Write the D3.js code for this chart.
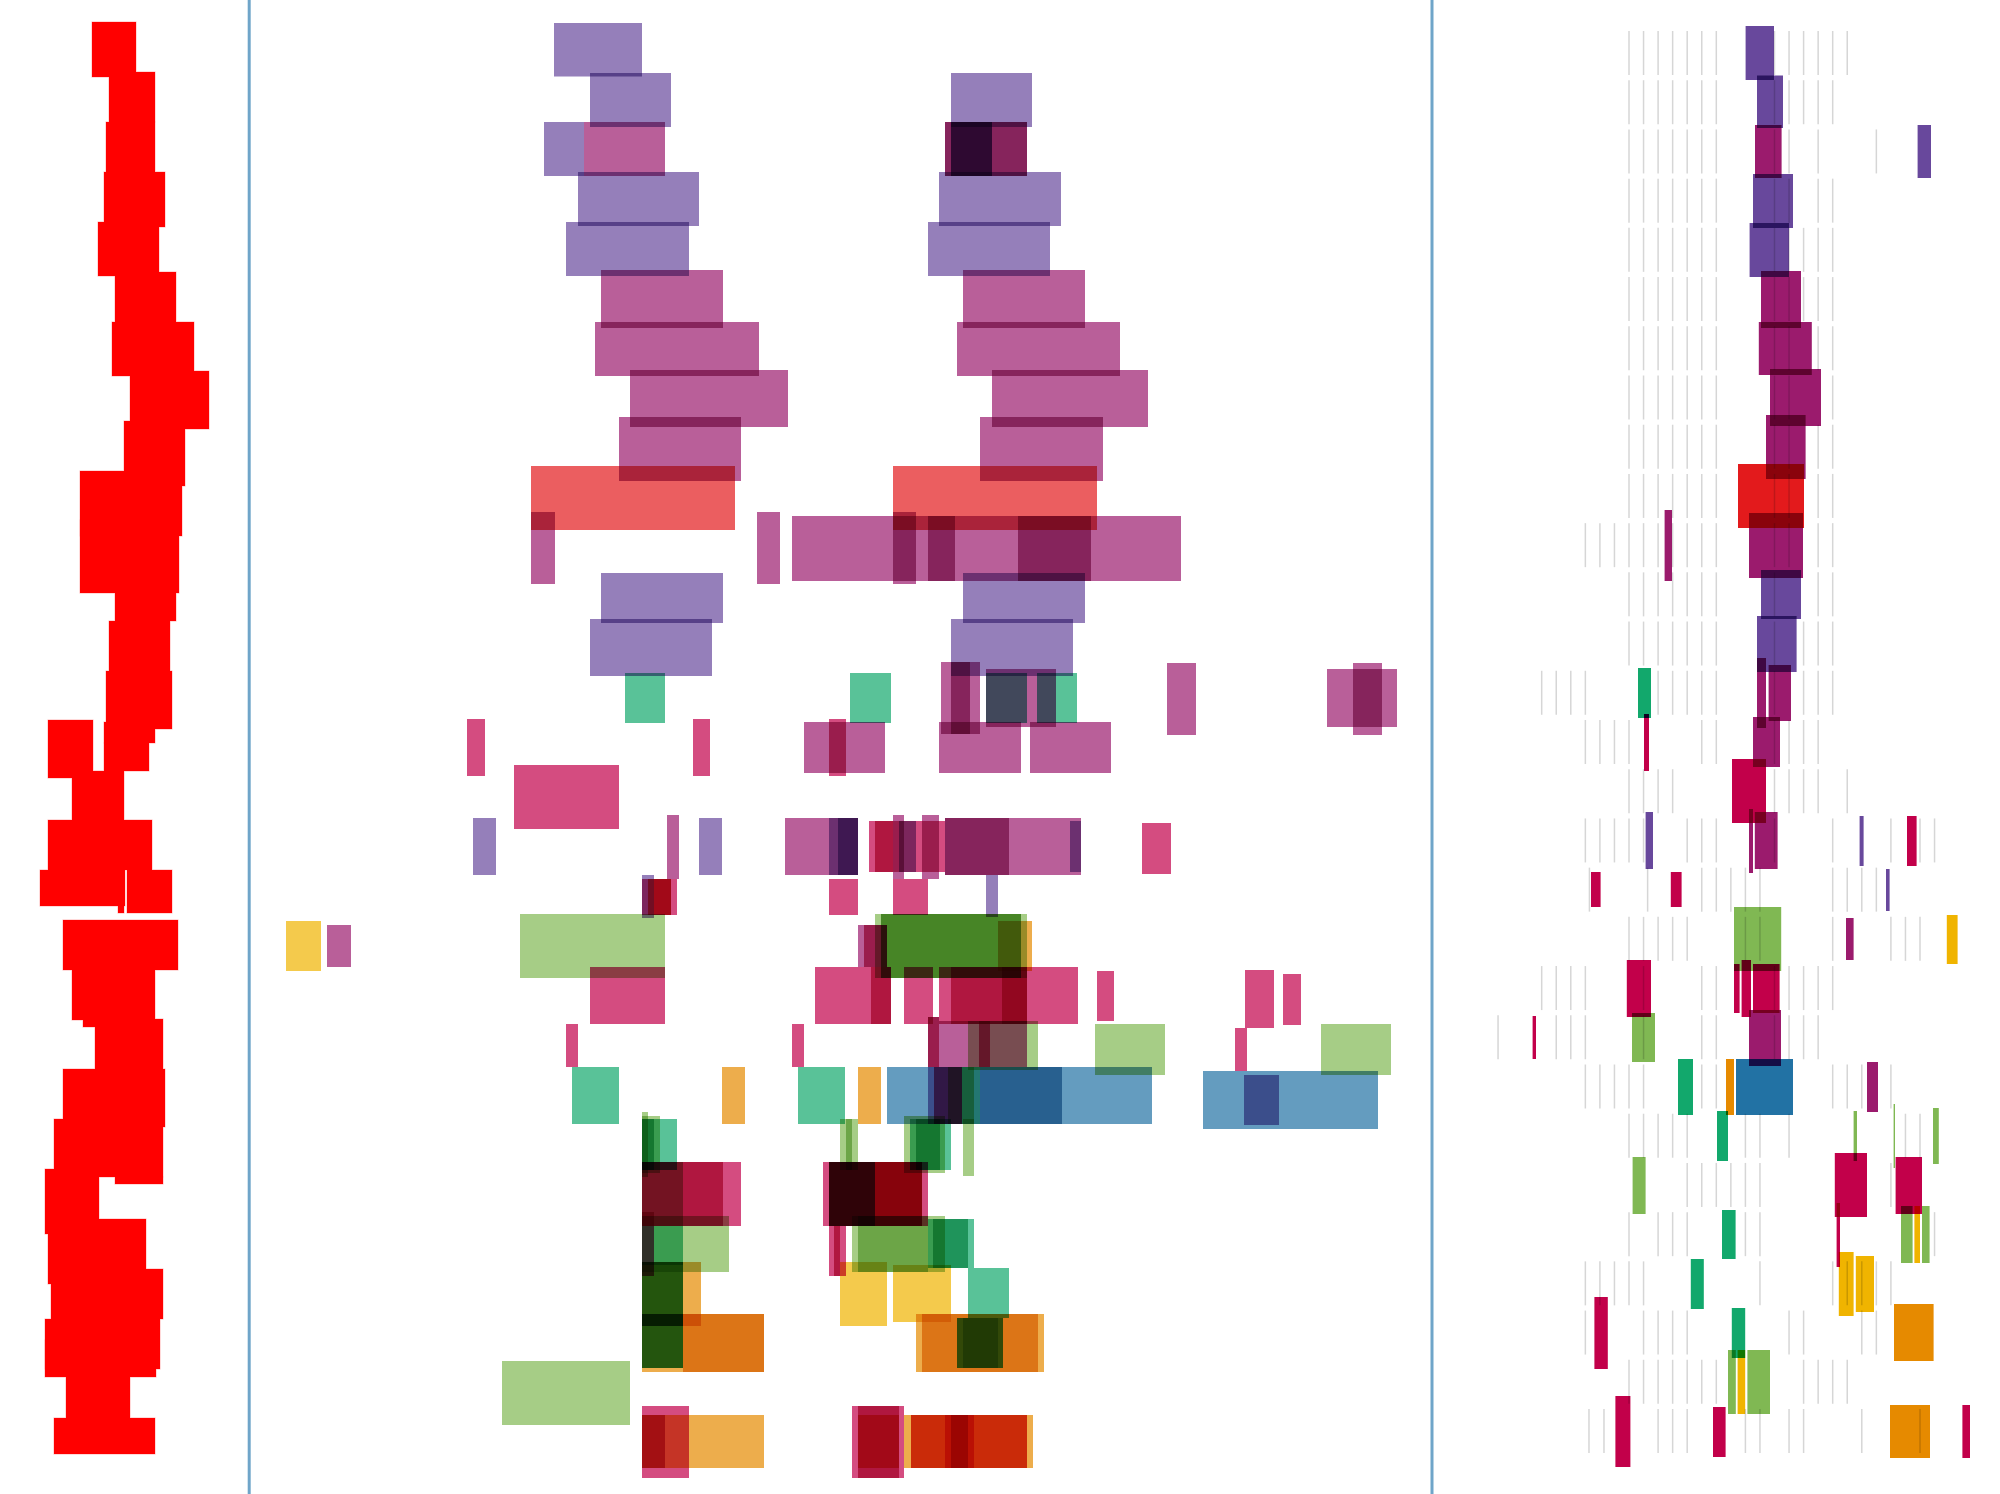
<!DOCTYPE html>
<html>
<head>
<meta charset="utf-8">
<script src="https://cdn.jsdelivr.net/npm/d3@7"></script>
<style>
html,body{margin:0;padding:0;background:#fff;}
svg{display:block;}
</style>
</head>
<body>
<script>
// ---------- DATA ----------
// series (colour groups)
const seriesNames  = ["purple","magenta","red","crimson","green","lime","yellow","orange","blue"];
const seriesColors = ["#68489c","#9b1b6d","#e31a1c","#c2004a","#12a86c","#80b853","#f0b400","#e68a00","#2272a4"];

// left track: [start, end, top, bottom]  (position units, row units)
const leftRanges = [
 [46,68,0.44,1.54],[54.5,77.5,1.44,2.44],[53,77.5,2.44,3.44],[52,82.5,3.44,4.54],
 [49,79.5,4.44,5.52],[57.5,88,5.44,6.44],[56,97,6.44,7.52],[65,104.5,7.42,8.58],
 [62,92.5,8.42,9.72],[40,91,9.42,10.72],[40,89.5,10.4,11.86],[57.5,88,11.42,12.42],
 [54.5,85,12.42,13.42],[53,86,13.42,14.58],[52,77.5,14.44,14.86],[52,74.5,14.86,15.42],
 [24,46.5,14.4,15.56],[36,62,15.42,16.4],[24,76,16.4,17.4],[20,62.5,17.4,18.12],
 [63.5,86,17.4,18.26],[59,62,17.7,18.26],[31.5,89,18.4,19.4],[36,77.5,19.26,20.4],
 [47.5,81.5,20.38,21.38],[41.5,47.5,20.4,20.54],[31.5,82.5,21.38,22.54],[27,81.5,22.38,23.54],
 [57.5,81.5,23.54,23.68],[22.5,49.5,23.38,24.68],[24,73,24.38,25.68],[25.5,81.5,25.38,26.38],
 [22.5,80,26.38,27.38],[22.5,78,26.8,27.54],[33,65,27.54,28.36],[27,77.5,28.36,29.08]
];

// middle track: [series, start, end, top, bottom]
const middleRanges = [
 [0,277,321,0.46,1.53],
 [0,295,335.5,1.46,2.54],[0,475.5,516,1.46,2.54],
 [0,272,292,2.44,3.52],[1,292,332.5,2.44,3.52],[1,472.5,513.5,2.44,3.52],[1,472.5,513.5,2.44,3.52],[0,475.5,496,2.44,3.52],[0,475.5,496,2.44,3.52],
 [0,289,349.5,3.44,4.52],[0,469.5,530.5,3.44,4.52],
 [0,283,344.5,4.44,5.52],[0,464,525,4.44,5.52],
 [1,300.5,361.5,5.4,6.56],[1,481.5,542.5,5.4,6.56],
 [1,297.5,379.5,6.44,7.52],[1,478.5,560,6.44,7.52],
 [1,315,394,7.4,8.54],[1,496,574,7.4,8.54],
 [1,309.5,370.5,8.34,9.62],[1,490,551.5,8.34,9.62],
 [2,265.5,367.5,9.32,10.6],[2,446.5,548.5,9.32,10.6],
 [1,265.5,277.5,10.24,11.68],[1,378.5,390,10.24,11.68],[1,396,590.5,10.32,11.62],[1,446.5,458,10.24,11.68],[1,464,477.5,10.32,11.62],[1,509,545.5,10.32,11.62],
 [0,300.5,361.5,11.46,12.46],[0,481.5,542.5,11.46,12.46],
 [0,295,356,12.38,13.52],[0,475.5,536.5,12.38,13.52],
 [4,312.5,332.5,13.46,14.46],[4,425,445.5,13.46,14.46],[1,470.5,490,13.24,14.68],[1,475.5,485,13.24,14.68],[1,493,528,13.38,14.54],[4,493,513.5,13.46,14.46],[4,518.5,538.5,13.46,14.46],[1,583.5,598,13.26,14.7],[1,663.5,698.5,13.38,14.54],[1,676.5,691,13.26,14.7],
 [3,233.5,242.5,14.38,15.52],[3,346.5,355,14.38,15.52],[1,402,442.5,14.44,15.46],[3,414.5,423,14.38,15.52],[1,469.5,510.5,14.44,15.46],[1,515,555.5,14.44,15.46],
 [3,257,309.5,15.3,16.58],
 [0,236.5,248,16.36,17.5],[1,333.5,339.5,16.3,17.58],[0,349.5,361,16.36,17.5],[1,392.5,429,16.36,17.5],[0,414.5,429,16.36,17.5],[0,419,429,16.36,17.5],[3,434.5,458,16.42,17.44],[3,437.5,446.5,16.42,17.44],[1,446.5,452,16.3,17.58],[0,449.5,458,16.42,17.44],[3,458,472.5,16.42,17.44],[1,461,469.5,16.3,17.58],[1,472.5,504.5,16.36,17.5],[1,472.5,540.5,16.36,17.5],[0,535,540.5,16.42,17.44],[3,571,585.5,16.46,17.48],
 [0,321,327,17.5,18.36],[3,321,338.5,17.58,18.3],[2,324,335.5,17.58,18.3],[3,327,335.5,17.58,18.3],[3,414.5,429,17.58,18.3],[3,446.5,464,17.58,18.3],[0,493,499,17.5,18.34],
 [6,143,160.5,18.42,19.42],[1,163.5,175.5,18.5,19.34],[5,260,332.5,18.28,19.56],[1,429,443.5,18.5,19.34],[3,432,443.5,18.5,19.34],[5,437.5,513.5,18.28,19.56],[5,440.5,510.5,18.28,19.56],[5,440.5,510.5,18.28,19.56],[7,499,516,18.42,19.42],
 [3,295,332.5,19.34,20.48],[3,407.5,445.5,19.34,20.48],[3,435.5,445.5,19.34,20.48],[3,452,466.5,19.34,20.48],[3,469.5,539,19.34,20.48],[3,475.5,513.5,19.34,20.48],[3,501,513.5,19.34,20.48],[3,548.5,557,19.42,20.42],[3,622.5,637,19.4,20.56],[3,641.5,650.5,19.48,20.5],
 [3,283,289,20.48,21.34],[3,396,402,20.48,21.34],[1,464,469.5,20.34,21.34],[3,464,469.5,20.34,21.34],[1,469.5,513.5,20.42,21.34],[5,484,519,20.42,21.4],[3,489.5,495,20.42,21.34],[5,547.5,582.5,20.48,21.5],[3,617.5,623.5,20.56,21.42],[5,660.5,695.5,20.48,21.5],
 [4,286,309.5,21.34,22.48],[7,361,372.5,21.34,22.48],[4,399,422.5,21.34,22.48],[7,429,440.5,21.34,22.48],[8,443.5,576,21.34,22.48],[8,490,531,21.34,22.48],[0,464,481,21.34,22.48],[3,467,481,21.34,22.48],[5,474,487,21.34,22.48],[4,481,490,21.34,22.48],[8,601.5,689,21.42,22.58],[0,622,639.5,21.5,22.5],
 [5,321,330,22.32,23.46],[5,321,324,22.24,23.54],[4,321,338.5,22.38,23.4],[4,321,327,22.38,23.4],[5,420,429,22.38,23.4],[5,423,426,22.38,23.4],[5,452,472.5,22.32,23.46],[4,455,475.5,22.38,23.4],[4,458,470,22.38,23.4],[5,481.5,487,22.38,23.52],
 [3,321,370.5,23.24,24.52],[3,321,361.5,23.24,24.52],[5,321,341.5,23.24,24.52],[3,411.5,464,23.24,24.52],[3,414.5,461,23.24,24.52],[3,414.5,461,23.24,24.52],[2,414.5,461,23.24,24.52],[4,414.5,437.5,23.24,24.52],
 [3,321,327,24.24,25.52],[4,321,341.5,24.52,25.3],[5,321,364.5,24.32,25.44],[3,414.5,423,24.52,25.52],[3,417,420,24.52,25.52],[5,426,472.5,24.32,25.44],[5,429,464,24.32,25.44],[4,464,487,24.38,25.36],[4,466.5,484,24.38,25.36],
 [4,321,341.5,25.24,26.52],[5,321,341.5,25.24,26.52],[5,321,341.5,25.24,26.52],[7,321,350.5,25.24,26.52],[6,420,443.5,25.24,26.52],[6,446.5,475.5,25.3,26.44],[4,484,504.5,25.36,26.36],
 [7,321,382,26.28,27.44],[7,341.5,382,26.28,27.44],[4,321,341.5,26.28,27.36],[5,321,341.5,26.28,27.36],[5,321,341.5,26.28,27.36],[7,458,522,26.28,27.44],[7,461,519,26.28,27.44],[4,478.5,501.5,26.36,27.36],[5,478.5,501.5,26.36,27.36],[5,481.5,499,26.36,27.36],
 [5,251,315,27.22,28.5],
 [3,321,344.5,28.12,29.56],[3,321,332.5,28.3,29.36],[7,321,382,28.3,29.36],[3,426,452,28.12,29.56],[3,429,449.5,28.12,29.56],[2,429,449.5,28.3,29.36],[7,452,516.5,28.3,29.36],[7,455.5,513.5,28.3,29.36],[2,455.5,513.5,28.3,29.36],[2,472.5,487,28.3,29.36],[3,475.5,484,28.3,29.36]
];

// right track: [series, start, end, top, bottom]
const rightRanges = [
 [0,872.8,887,0.52,1.6],[0,878.5,891.5,1.51,2.56],[1,877.5,890.8,2.5,3.56],[0,958.8,965.5,2.5,3.56],
 [0,876.5,896.5,3.48,4.56],[0,874.8,894.5,4.46,5.54],[1,880.5,900.5,5.42,6.56],[1,879.4,905.9,6.44,7.5],
 [1,885,910.5,7.38,8.52],[1,883,902.8,8.3,9.58],[2,869,902,9.28,10.56],[1,832.3,836,10.2,11.62],
 [1,874.5,901.5,10.26,11.56],[0,880.5,900.5,11.4,12.38],[0,878.5,898.3,12.32,13.44],[4,819,825.5,13.36,14.36],
 [1,878.5,883,13.16,14.56],[1,884.3,895.5,13.3,14.42],[3,822,824.5,14.28,15.42],[1,876.5,890,14.34,15.34],
 [3,866,883,15.18,16.46],[0,822.8,826.5,16.24,17.38],[1,874.5,876.5,16.18,17.46],[1,877.4,888.8,16.24,17.38],
 [0,929.8,931.8,16.32,17.32],[3,953.5,958.3,16.32,17.32],[3,795.5,800.3,17.44,18.14],[3,835.4,840.8,17.44,18.14],
 [0,943,944.8,17.38,18.22],[5,867,890.6,18.14,19.42],[1,923,926.8,18.36,19.2],[6,973.4,978.8,18.3,19.28],
 [3,813.4,825.5,19.2,20.34],[3,867,869.8,19.28,20.26],[3,870.8,875.5,19.2,20.34],[3,876.5,889.8,19.28,20.26],
 [3,766.3,768,20.32,21.18],[5,816,827.5,20.26,21.24],[1,874.5,890.5,20.2,21.32],[4,839,846.5,21.18,22.3],
 [7,863,867,21.18,22.3],[8,868,896.5,21.18,22.3],[1,933.5,939,21.24,22.24],[4,858.5,864,22.22,23.22],
 [5,926.8,928.5,22.22,23.22],[5,946.8,947.5,22.08,23.36],[5,966.5,969.4,22.16,23.28],[5,816.3,822.8,23.14,24.28],
 [3,917.4,933.5,23.06,24.34],[3,947.8,961,23.14,24.28],[4,861,867.8,24.2,25.18],[3,918.3,920,24.06,25.34],
 [5,950.5,956.3,24.12,25.26],[6,957.2,960,24.12,25.26],[5,961,964.8,24.12,25.26],[4,845.4,851.9,25.18,26.18],
 [6,919.4,926.8,25.04,26.32],[6,927.9,937,25.12,26.24],[3,797.2,803.9,25.94,27.38],[4,865.9,872.6,26.16,27.16],
 [7,947,966.8,26.08,27.22],[5,864,867.9,27,28.28],[6,868.8,872.6,27,28.28],[5,873.7,885,27,28.28],
 [3,807.7,815.2,27.92,29.34],[3,856.5,862.8,28.14,29.14],[7,945,965,28.1,29.16],[3,981.2,985,28.1,29.16]
];

// right track background ticks: grid indices present in each row (rows 1..29)
const tickRows = [
 [0,1,2,3,4,5,6,10,11,12,13,14,15],
 [0,1,2,3,4,5,6,10,11,12,13,14],
 [0,1,2,3,4,5,6,10,11,13,17],
 [0,1,2,3,4,5,6,10,11,13,14],
 [0,1,2,3,4,5,6,10,11,12,13,14],
 [0,1,2,3,4,5,6,10,11,12,13,14],
 [0,1,2,3,4,5,6,10,11,13,14],
 [0,1,2,3,4,5,6,10,11,14],
 [0,1,2,3,4,5,6,10,11,13,14],
 [0,1,2,3,4,5,6,10,11,13,14],
 [-3,-2,-1,0,1,2,3,4,5,6,10,11,13,14],
 [0,1,2,3,4,5,6,10,13,14],
 [0,1,2,3,4,5,6,10,12,13,14],
 [-6,-5,-4,-3,2,3,4,5,6,10,12,13,14],
 [-3,-2,-1,0,5,6,10,11,12,13],
 [0,1,2,3,10,11,12,13,15],
 [-3,-2,-1,0,1,4,5,6,10,14,18,20,21],
 [-2.72,1.28,5,6,7,8,9,14,15,16,17],
 [0,1,2,3,4,8,9,14,18,19,20],
 [-6,-5,-4,-3,1,5,6,10,11,12,13,14],
 [-9,-5,-4,-3,1,5,6,10,11,12,13],
 [-3,-2,-1,0,1,5,6,14,15,16,18],
 [0,1,2,3,4,8,9,11,19,20],
 [4,5,6,7,8,9,18],
 [0,2,3,4,8,9,21],
 [-3,-2,-1,0,1,9,14,15,16,17,18],
 [-3,1,2,3,4,11,12,16,17],
 [0,1,2,3,4,5,6,12,13,14,15],
 [-2.75,-1.72,2,3,4,8,9,11,12,16,20]
];
const tickGrid = [814.5, 821.775];      // positions of grid index 0 and 1
const tickRowCenters = [1.06, 28.62];   // row units of tick row 1 and row 29
const tickHalfHeight = 0.44;            // row units

// track separators (position units)
const dividerPositions = [124.6, 716];

// ---------- DRAW ----------
const W = 2000, H = 1494;
const svg = d3.select("body").append("svg").attr("width", W).attr("height", H);
svg.append("rect").attr("width", W).attr("height", H).attr("fill", "#ffffff");

const x = d3.scaleLinear().domain([0, 1000]).range([0, W]);
const y = d3.scaleLinear().domain([0, 29.88]).range([0, H]);
const color = d3.scaleOrdinal().domain(d3.range(seriesNames.length)).range(seriesColors);
const tickX = d3.scaleLinear().domain([0, 1]).range(tickGrid.map(x));
const tickY = d3.scaleLinear().domain([1, 29]).range(tickRowCenters.map(y));
const half = y(tickHalfHeight) - y(0);

// left track: outline layer first, solid fills on top
const left = svg.append("g");
left.append("g").selectAll("rect").data(leftRanges).join("rect")
  .attr("x", d => x(d[0])).attr("width", d => x(d[1]) - x(d[0]))
  .attr("y", d => y(d[2])).attr("height", d => y(d[3]) - y(d[2]))
  .attr("fill", "none").attr("stroke", "#ffb3b3").attr("stroke-width", 1);
left.append("g").selectAll("rect").data(leftRanges).join("rect")
  .attr("x", d => x(d[0])).attr("width", d => x(d[1]) - x(d[0]))
  .attr("y", d => y(d[2])).attr("height", d => y(d[3]) - y(d[2]))
  .attr("fill", "#ff0000");

// separators
svg.append("g").selectAll("line").data(dividerPositions).join("line")
  .attr("x1", d => x(d)).attr("x2", d => x(d)).attr("y1", 0).attr("y2", H)
  .attr("stroke", "#6fa5c9").attr("stroke-width", 3);

// middle track
svg.append("g").selectAll("rect").data(middleRanges).join("rect")
  .attr("x", d => x(d[1])).attr("width", d => x(d[2]) - x(d[1]))
  .attr("y", d => y(d[3])).attr("height", d => y(d[4]) - y(d[3]))
  .attr("fill", d => color(d[0])).attr("fill-opacity", 0.7)
  .style("mix-blend-mode", "multiply");

// right track
svg.append("g").selectAll("rect").data(rightRanges).join("rect")
  .attr("x", d => x(d[1])).attr("width", d => x(d[2]) - x(d[1]))
  .attr("y", d => y(d[3])).attr("height", d => y(d[4]) - y(d[3]))
  .attr("fill", d => color(d[0]))
  .style("mix-blend-mode", "multiply");

// ticks
const ticks = [];
tickRows.forEach((ks, i) => ks.forEach(k => ticks.push({row: i + 1, k})));
svg.append("g").selectAll("line").data(ticks).join("line")
  .attr("x1", d => tickX(d.k)).attr("x2", d => tickX(d.k))
  .attr("y1", d => tickY(d.row) - half).attr("y2", d => tickY(d.row) + half)
  .attr("stroke", "#d6d6d6").attr("stroke-width", 1.5)
  .style("mix-blend-mode", "multiply");
</script>
</body>
</html>
